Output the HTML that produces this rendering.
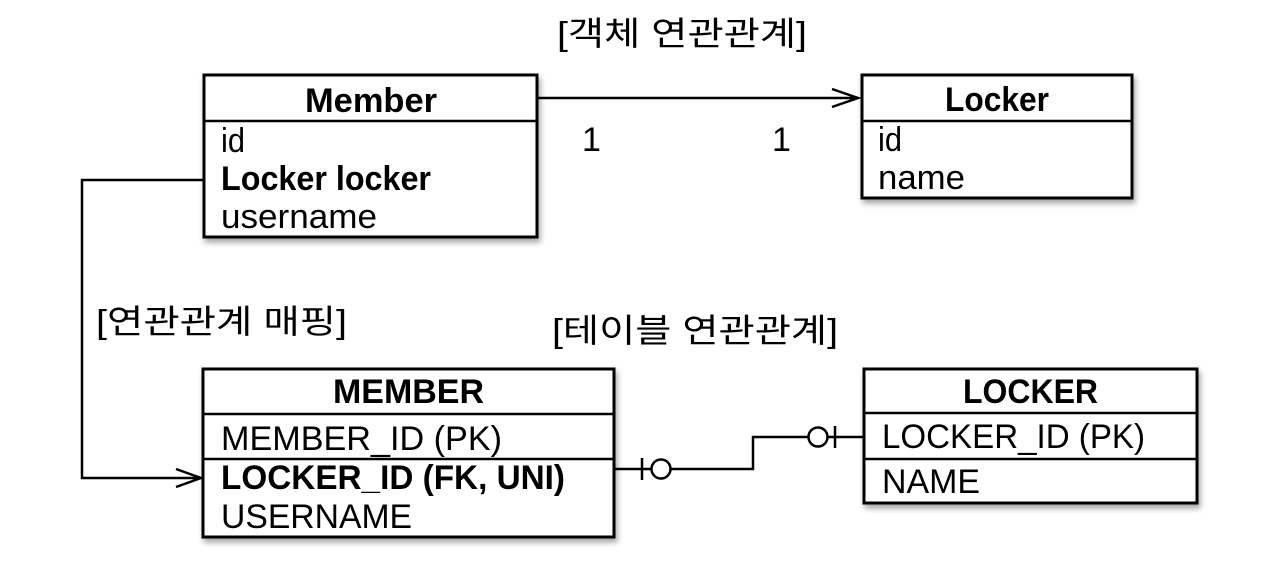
<!DOCTYPE html>
<html><head><meta charset="utf-8"><style>
html,body{margin:0;padding:0;background:#fff;}
svg text{font-family:"Liberation Sans","Noto Sans CJK KR",sans-serif;fill:#000;}
</style></head><body>
<svg width="1267" height="568" viewBox="0 0 1267 568" xmlns="http://www.w3.org/2000/svg">
<defs><filter id="sh" x="-5%" y="-5%" width="115%" height="120%"><feDropShadow dx="2" dy="4" stdDeviation="3" flood-color="#000" flood-opacity="0.35"/></filter></defs>
<g font-size="34">
<text x="557" y="45" font-size="33" textLength="250" lengthAdjust="spacingAndGlyphs">[객체 연관관계]</text>
<text x="96" y="333" font-size="33" textLength="251" lengthAdjust="spacingAndGlyphs">[연관관계 매핑]</text>
<text x="552" y="342" font-size="33" textLength="286" lengthAdjust="spacingAndGlyphs">[테이블 연관관계]</text>

<!-- Member -->
<rect x="204" y="75" width="333" height="162" fill="#fff" stroke="#000" stroke-width="3" filter="url(#sh)"/>
<line x1="204" y1="121" x2="537" y2="121" stroke="#000" stroke-width="2.5"/>
<text x="305" y="112" font-weight="bold" textLength="132" lengthAdjust="spacingAndGlyphs">Member</text>
<text x="221" y="152" textLength="24" lengthAdjust="spacingAndGlyphs">id</text>
<text x="221" y="190" font-weight="bold" textLength="210" lengthAdjust="spacingAndGlyphs">Locker locker</text>
<text x="221" y="228" textLength="156" lengthAdjust="spacingAndGlyphs">username</text>

<!-- Locker -->
<rect x="862" y="75" width="270" height="123" fill="#fff" stroke="#000" stroke-width="3" filter="url(#sh)"/>
<line x1="862" y1="121" x2="1132" y2="121" stroke="#000" stroke-width="2.5"/>
<text x="945" y="111" font-weight="bold" textLength="104" lengthAdjust="spacingAndGlyphs">Locker</text>
<text x="878" y="151" textLength="24" lengthAdjust="spacingAndGlyphs">id</text>
<text x="878" y="189" textLength="87" lengthAdjust="spacingAndGlyphs">name</text>

<path d="M537 98 H858 M832 89 L858 98 L832 107" fill="none" stroke="#000" stroke-width="2.5"/>
<text x="582" y="151">1</text>
<text x="772" y="151">1</text>

<path d="M204 180 H82 V478 H201 M176 469 L201 478 L176 487" fill="none" stroke="#000" stroke-width="2.5"/>

<!-- MEMBER -->
<rect x="203" y="369" width="411" height="168" fill="#fff" stroke="#000" stroke-width="3" filter="url(#sh)"/>
<line x1="203" y1="414" x2="614" y2="414" stroke="#000" stroke-width="2.5"/>
<line x1="203" y1="459" x2="614" y2="459" stroke="#000" stroke-width="2.5"/>
<text x="333" y="403" font-weight="bold" textLength="151" lengthAdjust="spacingAndGlyphs">MEMBER</text>
<text x="221" y="450" textLength="281" lengthAdjust="spacingAndGlyphs">MEMBER_ID (PK)</text>
<text x="221" y="489" font-weight="bold" textLength="344" lengthAdjust="spacingAndGlyphs">LOCKER_ID (FK, UNI)</text>
<text x="221" y="528" textLength="191" lengthAdjust="spacingAndGlyphs">USERNAME</text>

<!-- LOCKER -->
<rect x="864" y="369" width="333" height="134" fill="#fff" stroke="#000" stroke-width="3" filter="url(#sh)"/>
<line x1="864" y1="413" x2="1197" y2="413" stroke="#000" stroke-width="2.5"/>
<line x1="864" y1="459" x2="1197" y2="459" stroke="#000" stroke-width="2.5"/>
<text x="963" y="403" font-weight="bold" textLength="135" lengthAdjust="spacingAndGlyphs">LOCKER</text>
<text x="882" y="448" textLength="263" lengthAdjust="spacingAndGlyphs">LOCKER_ID (PK)</text>
<text x="882" y="493" textLength="98" lengthAdjust="spacingAndGlyphs">NAME</text>

<path d="M614 469 H651 M671 469 H753 V437 H808 M828 437 H864 M642 458 V480 M835 426 V448" fill="none" stroke="#000" stroke-width="2.5"/>
<circle cx="661" cy="469" r="9.5" fill="#fff" stroke="#000" stroke-width="2.5"/>
<circle cx="818" cy="437" r="9.5" fill="#fff" stroke="#000" stroke-width="2.5"/>
</g>
</svg>
</body></html>
